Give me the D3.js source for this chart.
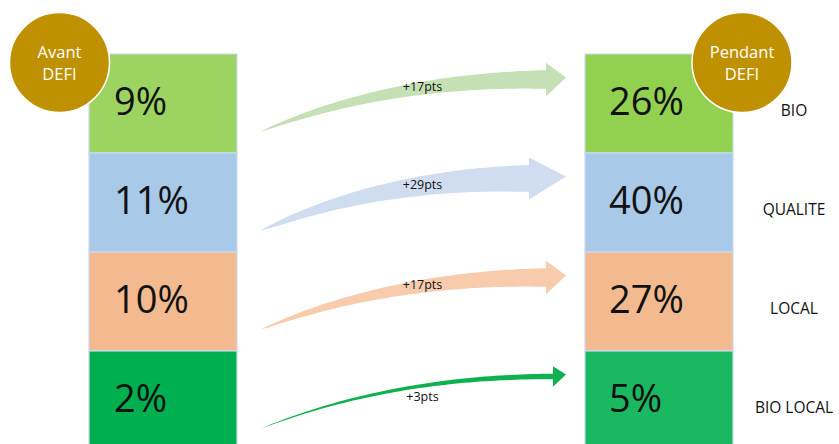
<!DOCTYPE html>
<html><head><meta charset="utf-8">
<script src="https://cdn.jsdelivr.net/npm/d3@7"></script>
<style>html,body{margin:0;padding:0;background:#fff;overflow:hidden}</style>
</head><body>
<script>
const categories = ["BIO", "QUALITE", "LOCAL", "BIO LOCAL"];
const avant = [9, 11, 10, 2];
const pendant = [26, 40, 27, 5];
const periods = ["Avant DEFI", "Pendant DEFI"];
const colorsAvant = ["#9dd461", "#a8c9e7", "#f4ba8f", "#00b050"];
const colorsPendant = ["#92d050", "#a8c9e7", "#f4ba8f", "#1bb862"];
const arrowColors = ["#c5e0b4", "#d0dcef", "#f8cbad", "#0fb050"];

const W = 839, H = 444;
const font = "'Open Sans', 'Liberation Sans', sans-serif";
const svg = d3.select("body").append("svg").attr("width", W).attr("height", H)
  .style("font-family", font);
svg.append("rect").attr("width", W).attr("height", H).attr("fill", "#fff");

const y = d3.scaleBand().domain(categories).range([54, 450]);
const x = d3.scalePoint().domain(periods).range([89, 585]);
const bw = 148;
const cy = c => y(c) + y.bandwidth() / 2;

const deltas = categories.map((c, i) => pendant[i] - avant[i]);
const swScale = d3.scalePow().exponent(0.7).domain([0, 29]).range([0, 27]);
const hlScale = d3.scaleLinear().domain([3, 17, 29]).range([13, 20, 37]);

// arrows
const gA = svg.append("g");
categories.forEach((c, i) => {
  const d = deltas[i];
  const sw = swScale(d), hw = sw + 15, hl = hlScale(d);
  const T = [x(periods[0]) + bw + 24, cy(c) + 28];
  const P = [x(periods[1]) - 19, cy(c) - 26];
  const B = [P[0] - hl, P[1] + 2];
  const C = [T[0] + 0.45 * (B[0] - T[0]), B[1]];
  const q = t => [(1-t)*(1-t)*T[0] + 2*t*(1-t)*C[0] + t*t*B[0], (1-t)*(1-t)*T[1] + 2*t*(1-t)*C[1] + t*t*B[1]];
  const dq = t => [2*(1-t)*(C[0]-T[0]) + 2*t*(B[0]-C[0]), 2*(1-t)*(C[1]-T[1]) + 2*t*(B[1]-C[1])];
  const top = [], bot = [];
  d3.range(0, 1.0001, 1/60).forEach(t => {
    const p = q(t), dv = dq(t), L = Math.hypot(dv[0], dv[1]);
    const n = [-dv[1] / L, dv[0] / L];
    const w = sw / 2 * Math.pow(t, 0.7);
    top.push([p[0] - n[0]*w, p[1] - n[1]*w]);
    bot.push([p[0] + n[0]*w, p[1] + n[1]*w]);
  });
  const pts = top.concat([[B[0], B[1] - hw/2], P, [B[0], B[1] + hw/2]], bot.reverse());
  gA.append("path").attr("d", d3.line()(pts) + "Z").attr("fill", arrowColors[i]);
  const lx = (T[0] + P[0]) / 2 + 9;
  const tx = d3.range(0, 1.0001, 1/200).find(t => q(t)[0] >= lx);
  const ly = q(tx)[1] + (sw < 10 ? sw / 2 + 9 : 0);
  gA.append("text").attr("x", lx).attr("y", ly).attr("text-anchor", "middle")
    .attr("dominant-baseline", "middle").attr("font-size", 12.5).attr("fill", "#111")
    .text("+" + d + "pts");
});

// boxes
[[avant, colorsAvant, 25], [pendant, colorsPendant, 24]].forEach(([vals, cols, pad], k) => {
  const g = svg.append("g");
  const x0 = x(periods[k]);
  g.selectAll("rect").data(categories).join("rect")
    .attr("x", x0).attr("y", c => y(c)).attr("width", bw).attr("height", y.bandwidth())
    .attr("fill", (c, i) => cols[i]).attr("stroke", "#c9daf0").attr("stroke-width", 1.2);
  g.selectAll("text").data(categories).join("text")
    .attr("x", x0 + pad).attr("y", c => cy(c) + 11)
    .attr("font-size", 38).attr("fill", "#111")
    .text((c, i) => vals[i] + "%");
});

// category labels
svg.append("g").selectAll("text").data(categories).join("text")
  .attr("x", x(periods[1]) + bw + 61).attr("y", c => cy(c) + 12)
  .attr("text-anchor", "middle").attr("font-size", 15.5).attr("fill", "#111")
  .text(c => c);

// period circles
periods.forEach((p, k) => {
  const ccx = k === 0 ? x(p) - 29.5 : x(p) + bw + 9;
  const ccy = y(categories[0]) + 8.5;
  svg.append("circle").attr("cx", ccx).attr("cy", ccy).attr("r", 50)
    .attr("fill", "#bf9000").attr("stroke", "#fff").attr("stroke-width", 1.5);
  p.split(" ").forEach((line, j) => {
    svg.append("text").attr("x", ccx).attr("y", ccy - 5 + j * 22)
      .attr("text-anchor", "middle").attr("font-size", 16.5).attr("fill", "#fff")
      .text(line);
  });
});
</script>
</body></html>
